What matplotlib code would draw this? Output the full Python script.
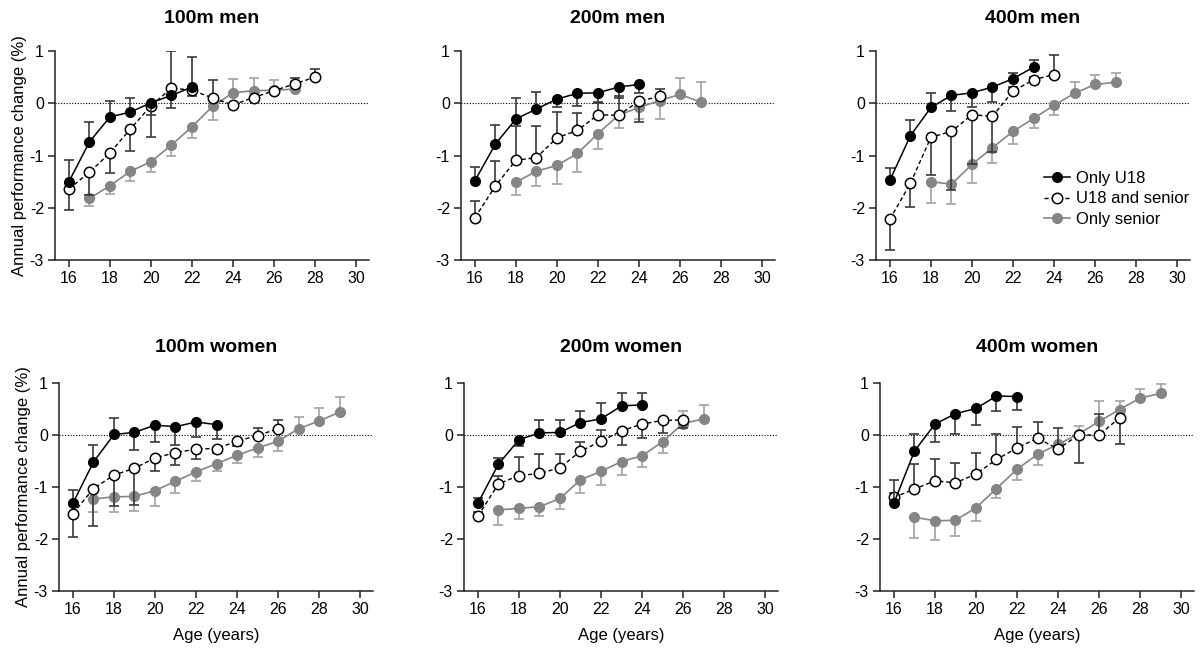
import matplotlib
matplotlib.use("Agg")
import matplotlib.pyplot as plt
from matplotlib.lines import Line2D
import numpy as np

plt.rcParams['font.family'] = ['Liberation Sans', 'DejaVu Sans']

titles = ["100m men", "200m men", "400m men", "100m women", "200m women", "400m women"]
series_labels = ["Only U18", "U18 and senior", "Only senior"]

# ---- 100m men ----
m100_u18_age = [16, 17, 18, 19, 20, 21, 22]
m100_u18 = [-1.50, -0.74, -0.26, -0.17, 0.01, 0.15, 0.31]
m100_u18_err = [0.41, 0.38, 0.31, 0.27, -0.24, -0.24, 0.58]
m100_both_age = [16, 17, 18, 19, 20, 21, 22, 23, 24, 25, 26, 27, 28]
m100_both = [-1.64, -1.32, -0.95, -0.49, -0.05, 0.29, 0.25, 0.10, -0.03, 0.11, 0.24, 0.37, 0.50]
m100_both_err = [-0.40, -0.43, -0.39, -0.42, -0.59, 0.71, -0.12, 0.35, 0.0, 0.0, 0.0, 0.11, 0.15]
m100_sen_age = [17, 18, 19, 20, 21, 22, 23, 24, 25, 26, 27]
m100_sen = [-1.82, -1.58, -1.30, -1.12, -0.80, -0.45, -0.06, 0.20, 0.24, 0.25, 0.27]
m100_sen_err = [-0.14, -0.16, -0.19, -0.20, -0.20, -0.21, -0.26, 0.27, 0.24, 0.20, 0.15]

# ---- 200m men ----
m200_u18_age = [16, 17, 18, 19, 20, 21, 22, 23, 24]
m200_u18 = [-1.48, -0.78, -0.30, -0.11, 0.08, 0.19, 0.20, 0.31, 0.36]
m200_u18_err = [0.26, 0.37, 0.40, 0.32, -0.16, -0.24, -0.19, -0.21, -0.17]
m200_both_age = [16, 17, 18, 19, 20, 21, 22, 23, 24, 25]
m200_both = [-2.19, -1.58, -1.09, -1.04, -0.66, -0.52, -0.22, -0.23, 0.04, 0.13]
m200_both_err = [0.32, 0.47, 0.66, 0.61, 0.49, 0.33, 0.24, 0.36, -0.40, 0.14]
m200_sen_age = [18, 19, 20, 21, 22, 23, 24, 25, 26, 27]
m200_sen = [-1.51, -1.30, -1.19, -0.96, -0.58, -0.23, -0.08, 0.05, 0.17, 0.02]
m200_sen_err = [-0.25, -0.29, -0.35, -0.36, -0.30, -0.25, -0.23, -0.35, 0.31, 0.39]

# ---- 400m men ----
m400_u18_age = [16, 17, 18, 19, 20, 21, 22, 23]
m400_u18 = [-1.47, -0.62, -0.08, 0.15, 0.20, 0.31, 0.47, 0.69]
m400_u18_err = [0.23, 0.29, 0.28, -0.29, -0.28, -0.28, 0.11, 0.14]
m400_both_age = [16, 17, 18, 19, 20, 21, 22, 23, 24]
m400_both = [-2.22, -1.53, -0.65, -0.54, -0.22, -0.25, 0.23, 0.45, 0.55]
m400_both_err = [-0.59, -0.45, -0.73, -1.12, -0.95, -0.68, 0.08, 0.06, 0.38]
m400_sen_age = [18, 19, 20, 21, 22, 23, 24, 25, 26, 27]
m400_sen = [-1.50, -1.55, -1.17, -0.85, -0.54, -0.29, -0.04, 0.19, 0.36, 0.40]
m400_sen_err = [-0.41, -0.37, -0.35, -0.29, -0.24, -0.19, -0.18, 0.21, 0.19, 0.18]

# ---- 100m women ----
w100_u18_age = [16, 17, 18, 19, 20, 21, 22, 23]
w100_u18 = [-1.31, -0.52, 0.01, 0.05, 0.19, 0.16, 0.25, 0.20]
w100_u18_err = [0.26, 0.33, 0.32, -0.33, -0.32, -0.35, -0.29, -0.27]
w100_both_age = [16, 17, 18, 19, 20, 21, 22, 23, 24, 25, 26]
w100_both = [-1.51, -1.03, -0.77, -0.64, -0.44, -0.34, -0.27, -0.26, -0.12, -0.01, 0.12]
w100_both_err = [-0.45, -0.72, -0.59, -0.70, -0.25, -0.24, -0.19, -0.08, -0.10, 0.14, 0.16]
w100_sen_age = [17, 18, 19, 20, 21, 22, 23, 24, 25, 26, 27, 28, 29]
w100_sen = [-1.23, -1.19, -1.18, -1.07, -0.89, -0.71, -0.55, -0.39, -0.25, -0.12, 0.12, 0.27, 0.44]
w100_sen_err = [-0.25, -0.29, -0.29, -0.29, -0.23, -0.17, -0.14, -0.14, -0.18, -0.19, 0.23, 0.24, 0.29]

# ---- 200m women ----
w200_u18_age = [16, 17, 18, 19, 20, 21, 22, 23, 24]
w200_u18 = [-1.31, -0.56, -0.09, 0.04, 0.05, 0.24, 0.31, 0.56, 0.58]
w200_u18_err = [0.10, 0.12, -0.13, 0.24, 0.23, 0.23, 0.31, 0.25, 0.22]
w200_both_age = [16, 17, 18, 19, 20, 21, 22, 23, 24, 25, 26]
w200_both = [-1.56, -0.94, -0.78, -0.74, -0.63, -0.31, -0.12, 0.08, 0.21, 0.28, 0.29]
w200_both_err = [0.08, 0.15, 0.36, 0.38, 0.27, 0.17, 0.21, -0.27, -0.27, -0.24, -0.15]
w200_sen_age = [17, 18, 19, 20, 21, 22, 23, 24, 25, 26, 27]
w200_sen = [-1.44, -1.41, -1.38, -1.22, -0.86, -0.70, -0.51, -0.40, -0.13, 0.22, 0.31]
w200_sen_err = [-0.30, -0.21, -0.17, -0.20, -0.26, -0.26, -0.26, -0.21, -0.21, 0.25, 0.27]

# ---- 400m women ----
w400_u18_age = [16, 17, 18, 19, 20, 21, 22]
w400_u18 = [-1.31, -0.31, 0.21, 0.41, 0.51, 0.75, 0.74]
w400_u18_err = [0.44, 0.32, -0.34, -0.39, -0.31, -0.28, -0.26]
w400_both_age = [16, 17, 18, 19, 20, 21, 22, 23, 24, 25, 26, 27]
w400_both = [-1.20, -1.04, -0.88, -0.92, -0.75, -0.47, -0.25, -0.06, -0.27, 0.00, 0.00, 0.33]
w400_both_err = [0.08, 0.48, 0.42, 0.39, 0.40, 0.48, 0.41, 0.31, 0.40, -0.54, 0.40, -0.51]
w400_sen_age = [17, 18, 19, 20, 21, 22, 23, 24, 25, 26, 27, 28, 29]
w400_sen = [-1.58, -1.65, -1.64, -1.40, -1.03, -0.66, -0.37, -0.18, 0.02, 0.26, 0.49, 0.71, 0.80]
w400_sen_err = [-0.41, -0.37, -0.30, -0.26, -0.19, -0.21, -0.21, -0.15, 0.16, 0.39, 0.16, 0.17, 0.18]

panels = [
    (m100_u18_age, m100_u18, m100_u18_err, m100_both_age, m100_both, m100_both_err, m100_sen_age, m100_sen, m100_sen_err),
    (m200_u18_age, m200_u18, m200_u18_err, m200_both_age, m200_both, m200_both_err, m200_sen_age, m200_sen, m200_sen_err),
    (m400_u18_age, m400_u18, m400_u18_err, m400_both_age, m400_both, m400_both_err, m400_sen_age, m400_sen, m400_sen_err),
    (w100_u18_age, w100_u18, w100_u18_err, w100_both_age, w100_both, w100_both_err, w100_sen_age, w100_sen, w100_sen_err),
    (w200_u18_age, w200_u18, w200_u18_err, w200_both_age, w200_both, w200_both_err, w200_sen_age, w200_sen, w200_sen_err),
    (w400_u18_age, w400_u18, w400_u18_err, w400_both_age, w400_both, w400_both_err, w400_sen_age, w400_sen, w400_sen_err),
]

W, H = 1200, 653
fig = plt.figure(figsize=(12, 6.53), dpi=100)

# pixel geometry of each axes
lefts_top = [55, 461, 876]
lefts_bot = [59, 464, 880]
ax_w = 314
rows = [(51, 260), (383, 591)]

GRAY = '#858585'
GRAY_ERR = '#a8a8a8'
DARK_ERR = '#3a3a3a'


def split_err(err):
    e = np.asarray(err, dtype=float)
    lower = np.where(e < 0, -e, 0.0)
    upper = np.where(e > 0, e, 0.0)
    return [lower, upper]


for i, (title, p) in enumerate(zip(titles, panels)):
    r = i // 3
    c = i % 3
    left = (lefts_top if r == 0 else lefts_bot)[c]
    top, bottom = rows[r]
    ax = fig.add_axes([left / W, (H - bottom) / H, ax_w / W, (bottom - top) / H])
    a1, v1, e1, a2, v2, e2, a3, v3, e3 = p

    ax.axhline(0, color='black', lw=0.8, ls=(0, (1, 1.5)), zorder=1)

    # Only senior
    ax.errorbar(a3, v3, yerr=split_err(e3), fmt='none', ecolor=GRAY_ERR,
                elinewidth=1.3, capsize=3.6, capthick=1.3, zorder=2)
    ax.plot(a3, v3, color=GRAY, lw=1.2, marker='o', ms=7, mfc=GRAY, mec=GRAY, zorder=3)
    # U18 and senior
    ax.errorbar(a2, v2, yerr=split_err(e2), fmt='none', ecolor=DARK_ERR,
                elinewidth=1.2, capsize=3.6, capthick=1.2, zorder=4)
    ax.plot(a2, v2, color='black', lw=1.0, ls=(0, (3, 2)), marker='o', ms=7.5,
            mfc='white', mec='black', mew=1.1, zorder=5)
    # Only U18
    ax.errorbar(a1, v1, yerr=split_err(e1), fmt='none', ecolor=DARK_ERR,
                elinewidth=1.2, capsize=3.6, capthick=1.2, zorder=6)
    ax.plot(a1, v1, color='black', lw=1.1, marker='o', ms=7, mfc='black', mec='black', zorder=7)

    ax.set_xlim(15.32, 30.63)
    ax.set_ylim(-3, 1)
    ax.set_xticks(range(16, 31, 2))
    ax.set_yticks([-3, -2, -1, 0, 1])
    ax.set_yticklabels(['-3', '-2', '-1', '0', '1'])
    for s in ['top', 'right']:
        ax.spines[s].set_visible(False)
    for s in ['left', 'bottom']:
        ax.spines[s].set_linewidth(1.1)
        ax.spines[s].set_color('#222222')
    ax.tick_params(axis='both', length=5, width=1.1, color='#222222', labelsize=11.5,
                   pad=3)
    ax.set_title(title, fontsize=14, fontweight='bold', pad=20 if r == 0 else 22)
    if c == 0:
        ax.set_ylabel('Annual performance change (%)', fontsize=12, labelpad=2)
    if r == 1:
        ax.set_xlabel('Age (years)', fontsize=12, labelpad=8)

    if i == 2:
        handles = [
            Line2D([], [], color='black', lw=1.1, marker='o', ms=7, mfc='black', mec='black'),
            Line2D([], [], color='black', lw=1.0, ls=(0, (3, 2)), marker='o', ms=7.5,
                   mfc='white', mec='black', mew=1.1),
            Line2D([], [], color=GRAY, lw=1.2, marker='o', ms=7, mfc=GRAY, mec=GRAY),
        ]
        ax.legend(handles, series_labels, loc='upper left',
                  bbox_to_anchor=(1032 / W, (H - 159) / H), bbox_transform=fig.transFigure,
                  frameon=False, fontsize=12, handlelength=1.6, handletextpad=0.35,
                  labelspacing=0.35, borderpad=0.2)

fig.savefig('out.png', dpi=100)
